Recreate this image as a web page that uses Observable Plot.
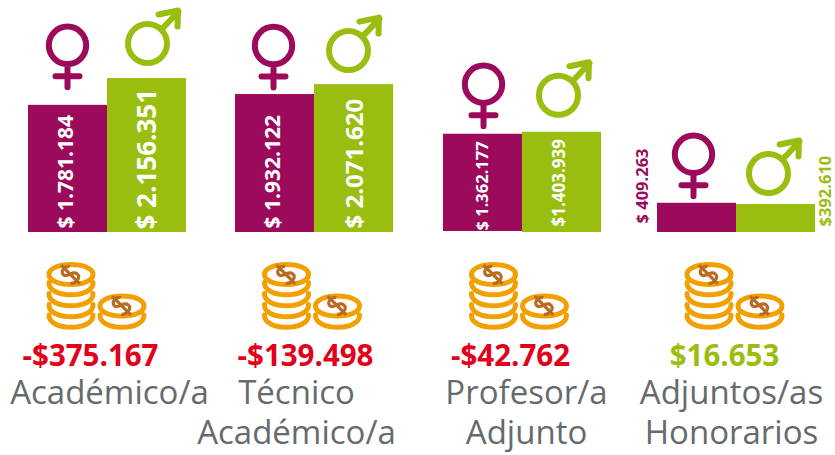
<!DOCTYPE html>
<html><head><meta charset="utf-8">
<style>html,body{margin:0;padding:0;background:#fff}svg{display:block}</style>
<script src="https://cdn.jsdelivr.net/npm/d3@7"></script>
<script src="https://cdn.jsdelivr.net/npm/@observablehq/plot@0.6"></script>
</head><body><div id="chart"></div>
<script>
const categorias = ["Académico/a", "Técnico\nAcadémico/a", "Profesor/a\nAdjunto", "Adjuntos/as\nHonorarios"];
const mujeres = [1781184, 1932122, 1362177, 409263];
const hombres = [2156351, 2071620, 1403939, 392610];
const brecha = [-375167, -139498, -42762, 16653];
const etiquetasMujeres = ["$ 1.781.184", "$ 1.932.122", "$ 1.362.177", "$ 409.263"];
const etiquetasHombres = ["$ 2.156.351", "$ 2.071.620", "$1.403.939", "$392.610"];
const etiquetasBrecha = ["-$375.167", "-$139.498", "-$42.762", "$16.653"];

const PURPLE = "#9c0a5b", GREEN = "#9abe10", ORANGE = "#f29f00", BROWN = "#b96b22", RED = "#e2001a", GREY = "#666a6d";
const FONT = "'Open Sans', 'Noto Sans', sans-serif";

// Layout tweaks, one entry per group
const groupDx = [0, 0, 1, 8];
const femaleIcon = [[-0.5, -60], [-1.5, -49], [0.5, -51], [-3.5, -49]];
const maleIcon = [[0.5, -35], [-5.5, -34], [-3.5, -37], [-7.5, -31]];
const coinDx = [-11, -2.5, -3.5, -2];
const gapDx = [-17, -9, -12, -12];
const labelDx = [2, -18, 4, -5];
const femaleText = [{dx: -2, size: 21, dy: -4, fill: "#fff"}, {dx: -2, size: 21, dy: -4, fill: "#fff"}, {dx: -0.5, size: 16.5, dy: -2, fill: "#fff"}, {dx: -54.5, size: 16.5, dy: -9, fill: PURPLE}];
const maleText = [{dx: 1, size: 26, dy: -3, fill: "#fff"}, {dx: 1, size: 24, dy: -4, fill: "#fff"}, {dx: -2.5, size: 17, dy: -6, fill: "#fff"}, {dx: 50, size: 16.5, dy: -6, fill: GREEN}];

const femaleSymbol = {draw(c) {
  c.moveTo(18.7, 0); c.arc(0, 0, 18.7, 0, 2 * Math.PI);
  c.moveTo(0, 19); c.lineTo(0, 42);
  c.moveTo(-12, 31); c.lineTo(12, 31);
}};
const maleSymbol = {draw(c) {
  c.moveTo(19.5, 0); c.arc(0, 0, 19.5, 0, 2 * Math.PI);
  c.moveTo(14, -14); c.lineTo(31, -32);
  c.moveTo(11, -29); c.lineTo(30.5, -33); c.lineTo(30, -17);
}};
const RX = 22, K = 13.3;
const ell = (c, cx, cy) => { c.moveTo(cx + RX, cy); c.bezierCurveTo(cx + RX, cy - K, cx - RX, cy - K, cx - RX, cy); c.bezierCurveTo(cx - RX, cy + K, cx + RX, cy + K, cx + RX, cy); };
const low = (c, cx, cy) => { c.moveTo(cx + RX, cy - 3); c.bezierCurveTo(cx + RX + 1, cy + K, cx - RX - 1, cy + K, cx - RX, cy - 3); };
const coinSymbol = {draw(c) {
  ell(c, -25.5, -22);
  [-11, 0, 11, 21.5].forEach(y => low(c, -25.5, y));
  ell(c, 25.5, 9.5); low(c, 25.5, 21.5);
}};
const dollar = (c, cx, cy) => {
  const p = (x, y) => [cx + 0.72 * x + 0.72 * y, cy - 0.72 * x + 0.72 * y];
  const mv = (x, y) => c.moveTo(...p(x, y));
  const bz = (a, b, d, e, f, g) => c.bezierCurveTo(...p(a, b), ...p(d, e), ...p(f, g));
  mv(5, -6); bz(3, -10, -6, -10, -5, -4); bz(-4, 0, 5, -1, 5, 4); bz(6, 10, -4, 10, -6, 6);
  mv(0, -13); c.lineTo(...p(0, 13));
};
const dollarSymbol = {draw(c) { dollar(c, -26, -22); dollar(c, 25, 9); }};

const marks = [];
categorias.forEach((cat, i) => {
  const dx = groupDx[i];
  const row = (sexo, valor) => ({cat, sexo, valor});
  const f = [row("M", mujeres[i])], m = [row("H", hombres[i])], one = [{cat}];
  const base = {fx: "cat"};
  marks.push(
    Plot.barY(f, {...base, x: "sexo", y: "valor", fill: PURPLE, dx, dy: i === 2 ? -1 : 0}),
    Plot.barY(m, {...base, x: "sexo", y: "valor", fill: GREEN, dx}),
    Plot.dot(f, {...base, x: "sexo", y: "valor", symbol: femaleSymbol, fill: "none", stroke: PURPLE, strokeWidth: 6, strokeLinecap: "round", strokeLinejoin: "round", dx: dx + femaleIcon[i][0], dy: femaleIcon[i][1]}),
    Plot.dot(m, {...base, x: "sexo", y: "valor", symbol: maleSymbol, fill: "none", stroke: GREEN, strokeWidth: 6, strokeLinecap: "round", strokeLinejoin: "round", dx: dx + maleIcon[i][0], dy: maleIcon[i][1]}),
    Plot.text(f, {...base, x: "sexo", y: 0, text: () => etiquetasMujeres[i], rotate: -90, textAnchor: "start", lineAnchor: "middle", fill: femaleText[i].fill, fontSize: femaleText[i].size, fontWeight: 700, fontFamily: FONT, dx: dx + femaleText[i].dx, dy: femaleText[i].dy}),
    Plot.text(m, {...base, x: "sexo", y: 0, text: () => etiquetasHombres[i], rotate: -90, textAnchor: "start", lineAnchor: "middle", fill: maleText[i].fill, fontSize: maleText[i].size, fontWeight: 700, fontFamily: FONT, dx: dx + maleText[i].dx, dy: maleText[i].dy}),
    Plot.dot(one, {...base, y: () => 0, symbol: coinSymbol, fill: "none", stroke: ORANGE, strokeWidth: 5, strokeLinecap: "round", dx: dx + coinDx[i], dy: 64}),
    Plot.dot(one, {...base, y: () => 0, symbol: dollarSymbol, fill: "none", stroke: BROWN, strokeWidth: 3.2, dx: dx + coinDx[i], dy: 64}),
    Plot.text(one, {...base, y: () => 0, text: () => etiquetasBrecha[i], fill: brecha[i] < 0 ? RED : GREEN, fontSize: 29.5, fontWeight: 700, fontFamily: FONT, lineAnchor: "middle", dx: dx + gapDx[i], dy: 124}),
    Plot.text(one, {...base, y: () => 0, text: "cat", fill: GREY, fontSize: 33, fontWeight: 400, fontFamily: FONT, lineAnchor: "top", lineHeight: 1.24, dx: dx + labelDx[i], dy: 142})
  );
});

const plot = Plot.plot({
  width: 835, height: 455,
  marginLeft: 28, marginRight: 28, marginTop: 0, marginBottom: 223,
  style: {background: "#fff", overflow: "visible"},
  fx: {axis: null, domain: categorias, paddingInner: 49 / 207, paddingOuter: 0, round: false},
  x: {axis: null, domain: ["M", "H"], padding: 0, round: false},
  y: {axis: null, domain: [0, 232 / 7.14e-5]},
  marks
});
document.getElementById("chart").append(plot);
</script></body></html>
